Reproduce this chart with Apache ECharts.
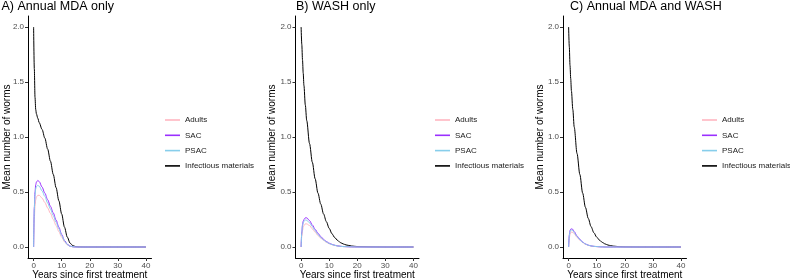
<!DOCTYPE html>
<html>
<head>
<meta charset="utf-8">
<script src="https://cdn.jsdelivr.net/npm/echarts@6/dist/echarts.min.js"></script>
<style>
  html, body { margin: 0; padding: 0; background: #fff; }
  #chart { width: 790px; height: 280px; }
</style>
</head>
<body>
<div id="chart"></div>
<script>
const years = [0, 0.25, 0.5, 0.75, 1, 1.5, 2, 3, 4, 5, 6, 7, 8, 9, 10, 11, 12, 13, 14, 15, 16, 18, 20, 25, 30, 35, 40]
const xTicks = [0, 10, 20, 30, 40]
const yTicks = [0, 0.5, 1, 1.5, 2]
const seriesNames = ['Adults', 'SAC', 'PSAC', 'Infectious materials']
const panelTitles = ['A) Annual MDA only', 'B) WASH only', 'C) Annual MDA and WASH']

// A) annual MDA only
const mdaAdults = [0, 0.26, 0.37, 0.43, 0.455, 0.47, 0.47, 0.445, 0.405, 0.355, 0.305, 0.25, 0.195, 0.14, 0.09, 0.047, 0.02, 0.006, 0.002, 0, 0, 0, 0, 0, 0, 0, 0]
const mdaSac = [0, 0.36, 0.5, 0.565, 0.59, 0.605, 0.595, 0.545, 0.49, 0.43, 0.37, 0.31, 0.245, 0.18, 0.115, 0.06, 0.025, 0.008, 0.002, 0, 0, 0, 0, 0, 0, 0, 0]
const mdaPsac = [0, 0.34, 0.47, 0.53, 0.55, 0.56, 0.553, 0.51, 0.46, 0.4, 0.345, 0.285, 0.225, 0.165, 0.105, 0.055, 0.022, 0.007, 0.002, 0, 0, 0, 0, 0, 0, 0, 0]
const mdaInfectious = [2, 1.62, 1.36, 1.25, 1.21, 1.17, 1.13, 1.07, 0.99, 0.89, 0.78, 0.66, 0.54, 0.42, 0.3, 0.18, 0.09, 0.035, 0.012, 0.004, 0.001, 0, 0, 0, 0, 0, 0]

// B) WASH only
const washAdults = [0, 0.1, 0.15, 0.18, 0.195, 0.21, 0.21, 0.195, 0.165, 0.135, 0.105, 0.08, 0.06, 0.043, 0.03, 0.021, 0.014, 0.009, 0.006, 0.004, 0.003, 0.001, 0, 0, 0, 0, 0]
const washSac = [0, 0.14, 0.2, 0.235, 0.25, 0.265, 0.265, 0.24, 0.2, 0.16, 0.125, 0.095, 0.07, 0.05, 0.035, 0.024, 0.016, 0.01, 0.007, 0.004, 0.003, 0.001, 0, 0, 0, 0, 0]
const washPsac = [0, 0.13, 0.19, 0.22, 0.235, 0.245, 0.243, 0.22, 0.185, 0.148, 0.115, 0.087, 0.064, 0.046, 0.032, 0.022, 0.015, 0.009, 0.006, 0.004, 0.003, 0.001, 0, 0, 0, 0, 0]
const washInfectious = [2, 1.84, 1.7, 1.58, 1.47, 1.29, 1.15, 0.94, 0.77, 0.62, 0.49, 0.39, 0.3, 0.23, 0.17, 0.12, 0.085, 0.06, 0.04, 0.028, 0.019, 0.009, 0.004, 0.001, 0, 0, 0]

// C) annual MDA and WASH
const bothAdults = [0, 0.08, 0.115, 0.13, 0.135, 0.133, 0.12, 0.088, 0.062, 0.04, 0.025, 0.015, 0.009, 0.005, 0.003, 0.002, 0.001, 0, 0, 0, 0, 0, 0, 0, 0, 0, 0]
const bothSac = [0, 0.11, 0.15, 0.162, 0.165, 0.16, 0.14, 0.1, 0.07, 0.045, 0.028, 0.017, 0.01, 0.006, 0.004, 0.002, 0.001, 0, 0, 0, 0, 0, 0, 0, 0, 0, 0]
const bothPsac = [0, 0.1, 0.14, 0.152, 0.155, 0.15, 0.13, 0.095, 0.066, 0.043, 0.027, 0.016, 0.01, 0.006, 0.004, 0.002, 0.001, 0, 0, 0, 0, 0, 0, 0, 0, 0, 0]
const bothInfectious = [2, 1.82, 1.65, 1.53, 1.42, 1.25, 1.09, 0.85, 0.66, 0.49, 0.36, 0.26, 0.185, 0.13, 0.09, 0.062, 0.042, 0.028, 0.018, 0.012, 0.008, 0.003, 0.001, 0, 0, 0, 0]

const panels = [
  [mdaAdults, mdaSac, mdaPsac, mdaInfectious],
  [washAdults, washSac, washPsac, washInfectious],
  [bothAdults, bothSac, bothPsac, bothInfectious],
]

const colors = ['#FFB6C1', '#9B30FF', '#87CEEB', '#000000']
const font = 'Liberation Sans, Arial, sans-serif'
const gridLeft = [28, 295.5, 563]
const legendLeft = [165, 435, 702]
const titleLeft = [1.5, 296, 570]
const yNameGap = [16, 18, 18]

const chart = echarts.init(document.getElementById('chart'), null, { renderer: 'canvas' })

const grids = []
const xAxes = []
const yAxes = []
const legends = []
const titles = []
const series = []

panels.forEach((panel, p) => {
  grids.push({ left: gridLeft[p], top: 16, width: 123.5, height: 242, outerBoundsMode: 'none', containLabel: false })
  titles.push({
    text: panelTitles[p],
    left: titleLeft[p],
    top: 0,
    padding: 0,
    textStyle: { fontFamily: font, fontSize: 12.5, fontWeight: 'normal', color: '#000' },
  })
  xAxes.push({
    type: 'value',
    gridIndex: p,
    min: -2,
    max: 42,
    name: 'Years since first treatment',
    nameLocation: 'middle',
    nameGap: 12,
    nameMoveOverlap: false,
    nameTextStyle: { fontFamily: font, fontSize: 10, color: '#000' },
    axisLine: { onZero: false, lineStyle: { color: '#000', width: 1 } },
    axisTick: { customValues: xTicks, length: 3, lineStyle: { color: '#333' } },
    axisLabel: { customValues: xTicks, margin: 4, fontFamily: font, fontSize: 8, color: '#4D4D4D' },
    splitLine: { show: false },
  })
  yAxes.push({
    type: 'value',
    gridIndex: p,
    min: -0.1,
    max: 2.1,
    name: 'Mean number of worms',
    nameLocation: 'middle',
    nameGap: yNameGap[p],
    nameMoveOverlap: false,
    nameTextStyle: { fontFamily: font, fontSize: 10, color: '#000' },
    axisLine: { show: true, onZero: false, lineStyle: { color: '#000', width: 1 } },
    axisTick: { show: true, customValues: yTicks, length: 3, lineStyle: { color: '#333' } },
    axisLabel: {
      customValues: yTicks,
      margin: 4,
      fontFamily: font,
      fontSize: 8,
      color: '#4D4D4D',
      formatter: v => v.toFixed(1),
    },
    splitLine: { show: false },
  })
  legends.push({
    data: seriesNames.map(n => ({ name: n, icon: 'rect' })),
    orient: 'vertical',
    left: legendLeft[p],
    top: 115,
    padding: 0,
    itemWidth: 15,
    itemHeight: 1.6,
    itemGap: 5.3,
    selectedMode: false,
    textStyle: { fontFamily: font, fontSize: 8, lineHeight: 10, color: '#1a1a1a' },
  })
  // infectious materials first so the worm curves sit on top
  const order = [3, 0, 1, 2]
  order.forEach((s) => {
    series.push({
      name: seriesNames[s],
      type: 'line',
      xAxisIndex: p,
      yAxisIndex: p,
      data: years.map((t, i) => [t, panel[s][i]]),
      symbol: 'none',
      smooth: 0.3,
      smoothMonotone: 'x',
      color: colors[s],
      lineStyle: { width: 1, color: colors[s] },
      silent: true,
      animation: false,
    })
  })
})

chart.setOption({
  animation: false,
  backgroundColor: '#fff',
  title: titles,
  grid: grids,
  xAxis: xAxes,
  yAxis: yAxes,
  legend: legends,
  series,
})
</script>
</body>
</html>
